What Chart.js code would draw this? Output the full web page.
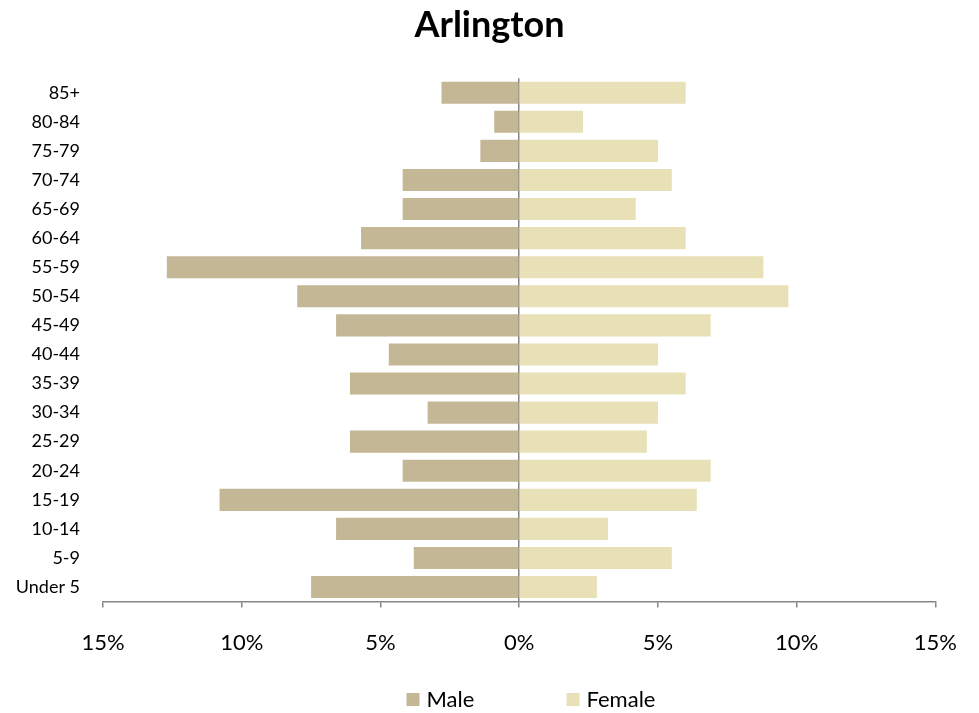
<!DOCTYPE html>
<html>
<head>
<meta charset="utf-8">
<script src="https://cdn.jsdelivr.net/npm/chart.js@4"></script>
<style>
  html, body { margin: 0; padding: 0; background: #fff; }
  #wrap { width: 979px; height: 713px; }
</style>
</head>
<body>
<div id="wrap"><canvas id="pyramid"></canvas></div>
<script>
// age groups, top row first
const ageGroups = ['85+','80-84','75-79','70-74','65-69','60-64','55-59','50-54','45-49',
  '40-44','35-39','30-34','25-29','20-24','15-19','10-14','5-9','Under 5'];

// percent of population
const malePct   = [2.8, 0.9, 1.4, 4.2, 4.2, 5.7, 12.7, 8.0, 6.6, 4.7, 6.1, 3.3, 6.1, 4.2, 10.8, 6.6, 3.8, 7.5];
const femalePct = [6.0, 2.3, 5.0, 5.5, 4.2, 6.0, 8.8, 9.7, 6.9, 5.0, 6.0, 5.0, 4.6, 6.9, 6.4, 3.2, 5.5, 2.8];

const xTicks = [-15, -10, -5, 0, 5, 10, 15];

const MALE_COLOR = '#C4B796';
const FEMALE_COLOR = '#E8E1B7';
const AXIS_GRAY = '#868686';
const FONT = 'Lato';

/* legend drawn like the excel one (wide gap between entries) */
const legendPlugin = {
  id: 'wideLegend',
  afterDraw(chart){
    const c = chart.ctx;
    const cx = chart.width / 2;
    const y = 700;
    const items = [
      {text: chart.data.datasets[0].label, color: MALE_COLOR, x: cx - 83},
      {text: chart.data.datasets[1].label, color: FEMALE_COLOR, x: cx + 77}
    ];
    c.save();
    c.font = '22px ' + FONT;
    c.textBaseline = 'middle';
    c.textAlign = 'left';
    items.forEach(it => {
      c.fillStyle = it.color;
      c.fillRect(it.x, y - 7, 13, 13);
      c.fillStyle = '#000';
      c.fillText(it.text, it.x + 20, y);
    });
    c.restore();
  }
};

new Chart(document.getElementById('pyramid'), {
  type: 'bar',
  data: {
    labels: ageGroups,
    datasets: [
      {
        label: 'Male',
        data: malePct.map(v => -v),
        backgroundColor: MALE_COLOR,
        barPercentage: 0.76,
        categoryPercentage: 1
      },
      {
        label: 'Female',
        data: femalePct,
        backgroundColor: FEMALE_COLOR,
        barPercentage: 0.76,
        categoryPercentage: 1
      }
    ]
  },
  options: {
    indexAxis: 'y',
    responsive: true,
    maintainAspectRatio: false,
    animation: false,
    layout: { padding: { left: 0, right: 0, top: 0, bottom: 35 } },
    plugins: {
      legend: { display: false },
      tooltip: { enabled: false },
      title: {
        display: true,
        text: 'Arlington',
        color: '#000',
        font: { family: FONT, size: 36, weight: 'bold' },
        padding: { top: 4, bottom: 31 }
      }
    },
    scales: {
      x: {
        stacked: true,
        min: -15,
        max: 15,
        z: 1,
        afterBuildTicks: (s) => { s.ticks = xTicks.map(v => ({value: v})); },
        ticks: {
          color: '#000',
          font: { family: FONT, size: 22 },
          padding: 22,
          maxRotation: 0,
          callback: (v) => Math.abs(v) + '%'
        },
        grid: {
          color: (c) => c.tick && c.tick.value === 0 ? AXIS_GRAY : 'rgba(0,0,0,0)',
          lineWidth: 1.5,
          tickColor: AXIS_GRAY,
          tickLength: 6,
          tickWidth: 1.5
        },
        border: { display: true, color: AXIS_GRAY, width: 1.5 }
      },
      y: {
        stacked: true,
        afterFit: (s) => { s.width = 103; },
        ticks: {
          color: '#000',
          font: { family: FONT, size: 18 },
          padding: 23
        },
        grid: { display: false, drawTicks: false },
        border: { display: false }
      },
      // empty right-hand strip so the title stays centred on the canvas
      yRight: {
        position: 'right',
        afterFit: (s) => { s.width = 41; },
        ticks: { display: false },
        grid: { display: false, drawTicks: false },
        border: { display: false }
      }
    }
  },
  plugins: [legendPlugin]
});
</script>
</body>
</html>
